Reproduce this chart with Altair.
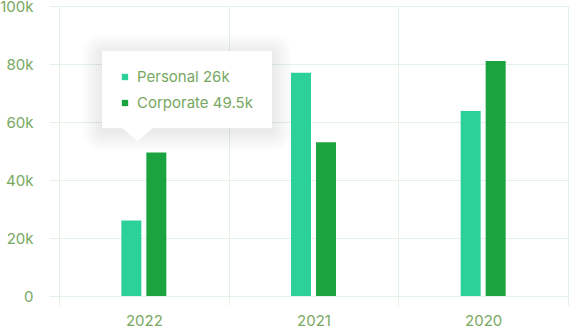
import altair as alt
import pandas as pd

years = ["2022", "2021", "2020"]
personal = [26000, 77000, 63800]
corporate = [49500, 53000, 81000]
series = ["Personal", "Corporate"]
colors = ["#2bd199", "#1ba33f"]
y_ticks = [0, 20000, 40000, 60000, 80000, 100000]

rows = []
for i, yr in enumerate(years):
    rows.append({"year": yr, "series": "Personal", "value": personal[i]})
    rows.append({"year": yr, "series": "Corporate", "value": corporate[i]})
df = pd.DataFrame(rows)

GRID = "#e4f2e5"
LABEL = "#78a862"
FONT = "Inter"
W, H = 509, 290
BAND = W / len(years)
GROUP = 50
L, T = 59, 6  # plot origin inside the canvas


def fmt_k(v):
    k = v / 1000
    return (f"{k:g}k") if v else "0"


bars = alt.Chart(df).mark_bar().encode(
    x=alt.X(
        "year:N",
        sort=years,
        scale=alt.Scale(paddingInner=0, paddingOuter=0),
        axis=alt.Axis(
            title=None, tickBand="extent", grid=True, gridColor=GRID,
            tickColor=GRID, tickSize=9, domain=False, labelAngle=0,
            labelPadding=8, labelFontSize=15, labelColor=LABEL, labelFont=FONT,
        ),
    ),
    xOffset=alt.XOffset(
        "series:N", sort=series,
        scale=alt.Scale(paddingInner=0.2, paddingOuter=0.1,
                        range=[(BAND - GROUP) / 2, (BAND + GROUP) / 2]),
    ),
    y=alt.Y(
        "value:Q",
        scale=alt.Scale(domain=[0, 100000]),
        axis=alt.Axis(
            title=None, values=y_ticks,
            labelExpr="datum.value == 0 ? '0' : (datum.value/1000) + 'k'",
            grid=True, gridColor=GRID, tickColor=GRID, tickSize=10,
            domain=False, labelPadding=16, labelFontSize=15,
            labelColor=LABEL, labelFont=FONT,
        ),
    ),
    color=alt.Color("series:N", scale=alt.Scale(domain=series, range=colors), legend=None),
)

one = pd.DataFrame({"a": [0]})
layers = [bars]

bx1, bx2, by1, by2 = 102 - L, 272 - L, 51 - T, 128 - T

# tooltip shadow
for i in range(1, 11):
    d = 2 * i
    layers.append(
        alt.Chart(one).mark_rect(color="#000000", opacity=0.009, cornerRadius=d).encode(
            x=alt.value(bx1 - d), x2=alt.value(bx2 + d),
            y=alt.value(by1 - d + 3), y2=alt.value(by2 + d + 3),
        )
    )
# tooltip box
layers.append(
    alt.Chart(one).mark_rect(color="#ffffff").encode(
        x=alt.value(bx1), x2=alt.value(bx2), y=alt.value(by1), y2=alt.value(by2),
    )
)
# pointer
layers.append(
    alt.Chart(one).mark_point(
        shape="M-1,0 L1,0 L0,0.875 Z", filled=True, color="#ffffff",
        opacity=1, size=1024, strokeWidth=0,
    ).encode(x=alt.value(137.5 - L), y=alt.value(by2 - 0.5))
)

tip_values = [personal[0], corporate[0]]
for i, s in enumerate(series):
    tdf = pd.DataFrame({"label": [f"{s} {fmt_k(tip_values[i])}"]})
    yy = 77 - T + 26 * i
    layers.append(
        alt.Chart(tdf).mark_point(shape="square", filled=True, size=40, opacity=1, color=colors[i], strokeWidth=0).encode(
            x=alt.value(125 - L), y=alt.value(yy)
        )
    )
    layers.append(
        alt.Chart(tdf).mark_text(align="left", baseline="middle", fontSize=15, font=FONT, color=LABEL).encode(
            x=alt.value(137 - L), y=alt.value(yy), text="label:N"
        )
    )

chart = alt.layer(*layers).properties(
    width=W, height=H,
    padding={"left": L, "top": T, "right": 1, "bottom": 33},
    autosize=alt.AutoSizeParams(type="none"),
    background="#ffffff",
).configure_view(stroke=None)

chart.save("out.html", embed_options={"renderer": "svg", "actions": False})
